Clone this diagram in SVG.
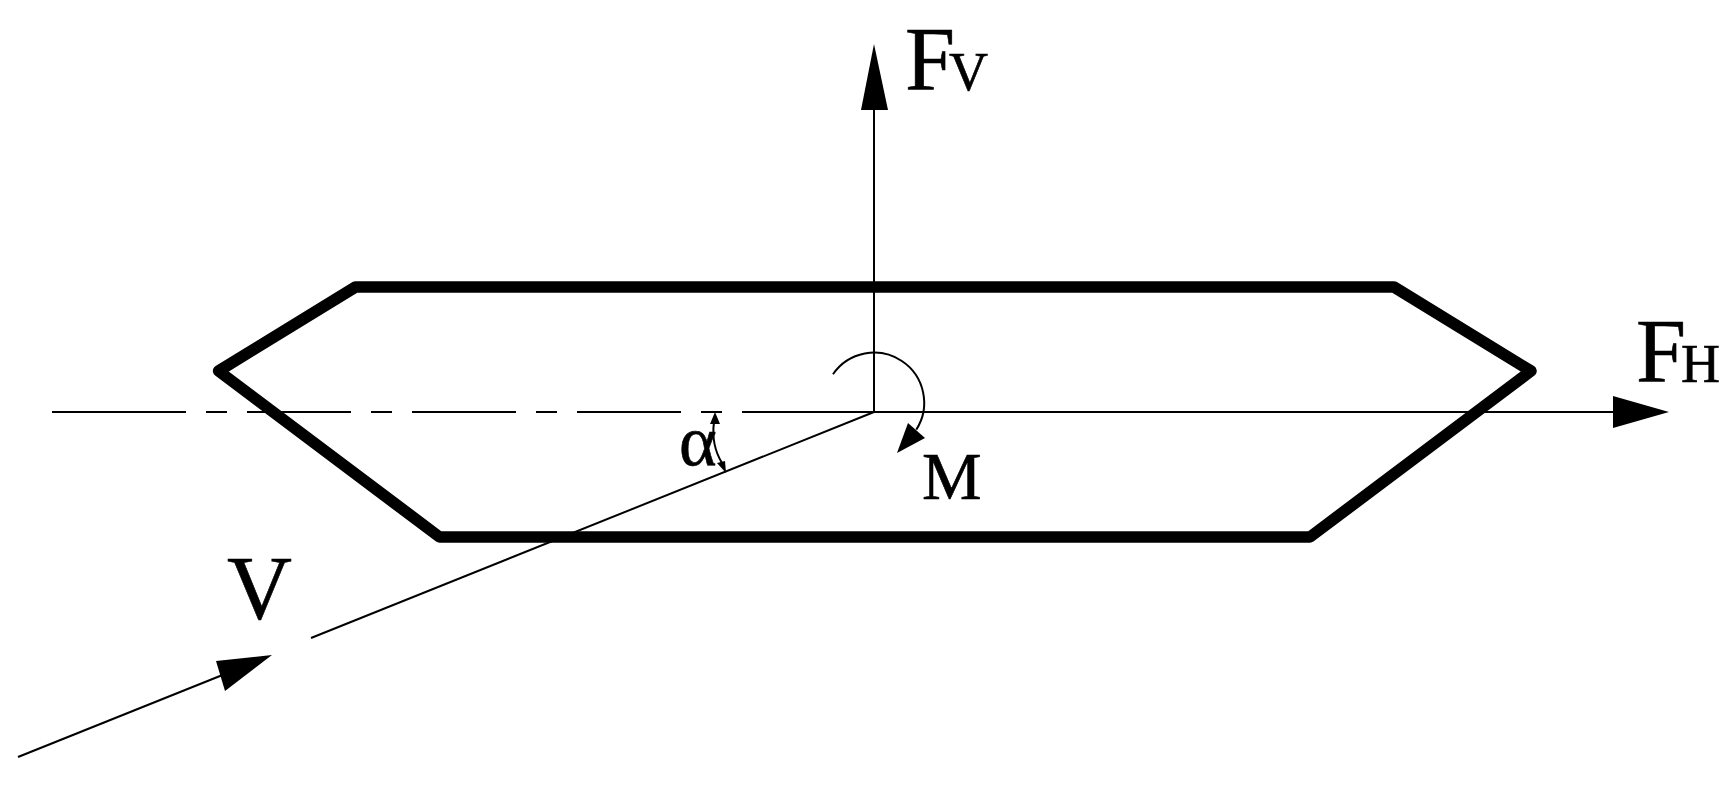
<svg xmlns="http://www.w3.org/2000/svg" width="1731" height="785" viewBox="0 0 1731 785">
<style>
.thin{fill:none;stroke:#000;stroke-width:2}
.head{fill:#000;stroke:none}
text{font-family:"Liberation Serif","Times New Roman",serif;fill:#000;stroke:#000;stroke-width:.6}
.big{font-size:90px}
.sub{font-size:54px}
</style>
<rect width="1731" height="785" fill="#fff"/>
<g id="body">
<polygon points="355.5,287 1394,287 1531,371 1310,537 439.5,537 218.6,371" fill="none" stroke="#000" stroke-width="11.5" stroke-linejoin="round"/>
</g>
<g id="connectors">
<path class="thin" d="M52 412H186M206 412H227M247 412H351M371 412H392M412 412H516M536 412H557M577 412H681M701 412H722M742 412H1620"/>
<path class="thin" d="M874 412V105"/>
<path class="thin" d="M874 412L311 638"/>
<path class="thin" d="M18 757L225 674"/>
<path class="thin" d="M833 374.3A50 50 0 0 1 916.3 429.6"/>
<path class="thin" d="M714 422Q711 445 722 463"/>
<polygon class="head" points="874,44 888,110 861,110"/>
<polygon class="head" points="1669,412 1613,396 1613,428"/>
<polygon class="head" points="272,655 216,661 225,691"/>
<polygon class="head" points="897,453 908,423 925,438"/>
<polygon class="head" points="715,412 710,424 720,424"/>
<polygon class="head" points="726,473 717,463 725,461"/>
</g>
<g id="label-fv"><text class="big" x="905" y="90">F<tspan class="sub" dx="-6">V</tspan></text></g>
<g id="label-fh"><text class="big" x="1636" y="382">F<tspan class="sub" dx="-5">H</tspan></text></g>
<g id="label-m"><text x="922" y="499" font-size="67">M</text></g>
<g id="label-v"><text class="big" x="227" y="619">V</text></g>
<g id="label-alpha"><text x="679" y="465" font-size="72">α</text></g>
</svg>
